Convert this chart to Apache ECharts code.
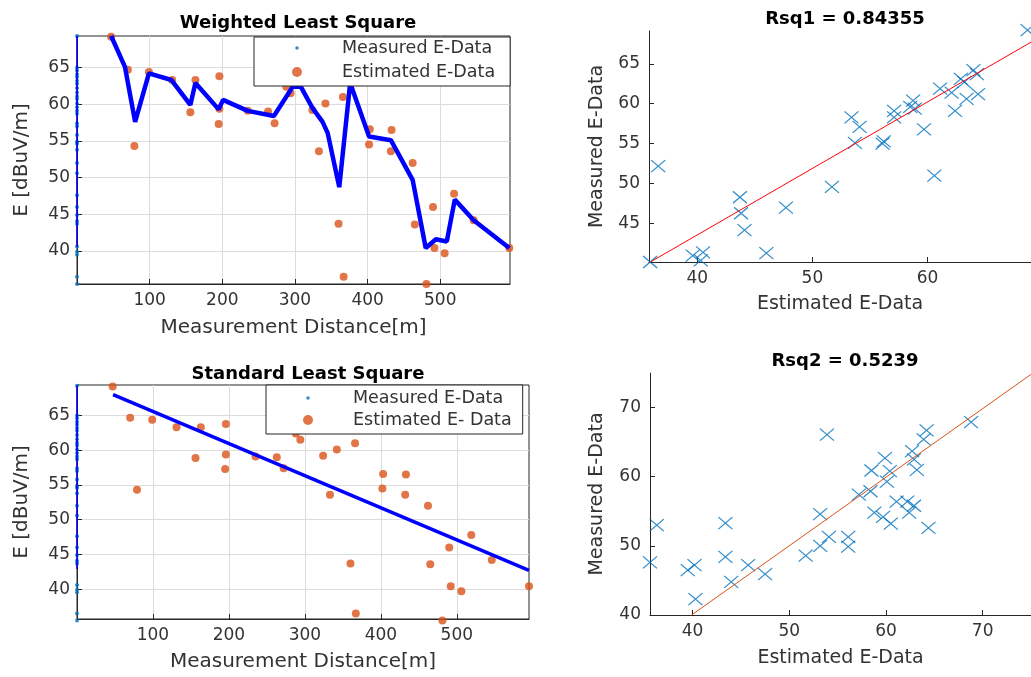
<!DOCTYPE html>
<html><head><meta charset="utf-8">
<script src="https://cdn.jsdelivr.net/npm/echarts@6/dist/echarts.min.js"></script>
<style>html,body{margin:0;padding:0;background:#fff}#c{width:1031px;height:677px}</style>
</head><body><div id="c"></div>
<script>
// ---- data ----
const distance = [47, 70, 79, 99, 131, 156, 163, 196, 196, 195, 235, 263, 272, 288, 294, 324, 342, 333, 366, 360, 367, 403, 402, 433, 432, 462, 465, 490, 481, 492, 506, 519, 546, 595];
const estimatedE = [69.2, 64.7, 54.3, 64.4, 63.3, 58.9, 63.3, 63.8, 59.4, 57.3, 59.1, 59.0, 57.4, 62.4, 61.5, 59.2, 60.1, 53.6, 61.0, 43.7, 36.5, 56.6, 54.5, 56.5, 53.6, 52.0, 43.6, 46.0, 35.5, 40.4, 39.7, 47.8, 44.2, 40.4];
const measuredDistance = 0;
const measuredE = [69.3, 65.0, 64.6, 64.1, 63.7, 63.2, 62.8, 62.2, 61.6, 61.1, 60.7, 60.1, 59.6, 59.1, 58.7, 57.4, 57.0, 55.8, 54.9, 54.6, 53.8, 52.0, 50.6, 47.6, 46.0, 44.9, 44.1, 43.7, 40.6, 39.9, 39.5, 36.5, 35.5];
const measuredSpanTop = [69.3, 40.6];
const measuredSpanBottom = [69.3, 42.9];
const weightedDist = [47, 66, 80, 99, 130, 156, 163, 195, 201, 235, 271, 297, 308, 324, 338, 345, 361, 376, 402, 432, 462, 480, 494, 509, 520, 546, 595];
const weightedE = [69.3, 65.1, 57.6, 64.2, 63.3, 59.9, 62.9, 59.3, 60.6, 59.1, 58.4, 62.4, 62.4, 59.5, 57.6, 56.1, 48.7, 62.9, 55.6, 55.1, 49.7, 40.4, 41.6, 41.3, 47.0, 44.2, 40.4];
const standardDist = [47.5, 595];
const standardE = [68.0, 42.7];
const rsq1Est = [35.9, 36.6, 39.6, 40.5, 40.3, 43.7, 43.8, 44.1, 46.0, 47.7, 51.7, 53.4, 54.1, 53.7, 56.2, 56.1, 57.1, 57.1, 58.75, 58.5, 58.9, 59.7, 60.6, 61.1, 62.1, 62.4, 62.9, 63.2, 63.4, 64.0, 64.3, 64.4, 68.7];
const rsq1Meas = [40.2, 52.2, 41.0, 41.4, 40.4, 48.3, 46.3, 44.2, 41.3, 47.0, 49.6, 58.3, 57.1, 55.1, 55.3, 55.0, 59.1, 58.3, 60.4, 59.6, 59.4, 56.8, 51.0, 61.9, 61.4, 59.1, 63.1, 62.7, 60.6, 64.2, 63.7, 61.2, 69.2];
const fit1X = [35.8, 69.0];
const fit1Y = [40.1, 67.7];
const rsq2Est = [35.6, 36.3, 39.5, 40.2, 40.3, 43.4, 43.4, 44.0, 45.75, 47.5, 51.7, 53.2, 53.2, 53.9, 54.1, 56.1, 56.1, 58.5, 59.9, 60.4, 60.1, 57.2, 58.4, 58.8, 59.7, 60.5, 61.1, 62.2, 62.9, 62.4, 62.7, 62.9, 63.2, 64.2, 63.9, 64.4, 68.8];
const rsq2Meas = [47.6, 53.0, 46.5, 47.2, 42.3, 53.3, 48.4, 44.8, 47.2, 45.9, 48.6, 50.0, 54.6, 66.1, 51.3, 51.3, 49.9, 60.9, 62.7, 60.8, 59.3, 57.4, 57.9, 54.8, 54.2, 53.2, 56.4, 56.4, 55.8, 54.8, 63.7, 62.5, 61.0, 66.7, 65.4, 52.6, 67.9];
const fit2X = [39.9, 75.0];
const fit2Y = [40.0, 74.8];
const distTicks = [100, 200, 300, 400, 500];
const eTicks = [40, 45, 50, 55, 60, 65];
const rsq1XTicks = [40, 50, 60];
const rsq1YTicks = [45, 50, 55, 60, 65];
const rsq2Ticks = [40, 50, 60, 70];
const titles = ['Weighted Least Square', 'Rsq1 = 0.84355', 'Standard Least Square', 'Rsq2 = 0.5239'];

// ---- chart ----
const FONT = 'DejaVu Sans';
const AX = '#262626';
const BLUE = '#0072BD', ORANGE = '#D95319';
const xy = (xs, ys) => xs.map((x, i) => [x, ys[i]]);
const cross = 'path://M0,0L10,10M10,0L0,10';
// small dot inside an invisible 10x10 box (legend icon for the small measured marker)
const smallDot = 'path://M0,0L0.01,0L0,0.01ZM10,10L9.99,10L10,9.99ZM5,3.2A1.8,1.8,0,1,1,5,6.8A1.8,1.8,0,1,1,5,3.2Z';

function axis(o) {
  return {
    type: 'value', gridIndex: o.g, min: o.min, max: o.max,
    name: o.name, nameLocation: 'middle', nameGap: o.gap,
    nameTextStyle: {fontFamily: FONT, fontSize: o.nameSize || 20, color: '#333'},
    axisLine: {show: true, onZero: false, lineStyle: {color: AX, width: 1}},
    axisTick: {show: true, inside: true, length: 5, customValues: o.ticks, lineStyle: {color: AX}},
    axisLabel: {customValues: o.ticks, color: '#333', fontFamily: FONT, fontSize: 17, margin: o.margin || 8},
    splitLine: {show: !!o.grid, lineStyle: {color: '#dcdcdc', width: 1}}
  };
}

const legendCommon = {
  orient: 'vertical', backgroundColor: '#fff', borderColor: AX, borderWidth: 1, borderRadius: 0,
  itemWidth: 10, itemHeight: 10, icon: 'circle',
  textStyle: {fontFamily: FONT, fontSize: 17.5, color: '#333', lineHeight: 20, padding: [0, 0, 0, 35]},
  selectedMode: false
};

const option = {
  animation: false,
  backgroundColor: '#fff',
  title: [
    {text: titles[0], left: 293, top: 9, textAlign: 'center'},
    {text: titles[1], left: 840, top: 5, textAlign: 'center'},
    {text: titles[2], left: 303, top: 360, textAlign: 'center'},
    {text: titles[3], left: 840, top: 347, textAlign: 'center'}
  ].map(t => Object.assign(t, {textStyle: {fontFamily: FONT, fontSize: 18, fontWeight: 'bold', color: '#000'}})),
  legend: [
    Object.assign({}, legendCommon, {left: 254, top: 37, padding: [1, 15, 4, 38], itemGap: 4,
      data: [{name: 'Measured E-Data', icon: smallDot}, {name: 'Estimated E-Data'}]}),
    Object.assign({}, legendCommon, {left: 266, top: 385, padding: [3, 11, 4, 37], itemGap: 2,
      data: [{name: 'Measured E-Data ', icon: smallDot}, {name: 'Estimated E- Data'}]})
  ],
  grid: [
    {left: 77, top: 36, width: 433, height: 248, show: true, borderColor: AX, borderWidth: 1},
    {left: 649, top: 31, width: 382, height: 231},
    {left: 77, top: 385, width: 452, height: 234, show: true, borderColor: AX, borderWidth: 1},
    {left: 650, top: 373, width: 381, height: 242}
  ],
  xAxis: [
    axis({g: 0, min: 0, max: 596, ticks: distTicks, grid: true, name: 'Measurement Distance[m]', gap: 34}),
    axis({g: 1, min: 35.8, max: 69, ticks: rsq1XTicks, name: 'Estimated E-Data', gap: 33, nameSize: 19}),
    axis({g: 2, min: 0, max: 595, ticks: distTicks, grid: true, name: 'Measurement Distance[m]', gap: 33}),
    axis({g: 3, min: 35.6, max: 75, ticks: rsq2Ticks, name: 'Estimated E-Data', gap: 34, nameSize: 19})
  ],
  yAxis: [
    axis({g: 0, min: 35.5, max: 69.3, ticks: eTicks, grid: true, name: 'E [dBuV/m]', gap: 45, margin: 7}),
    axis({g: 1, min: 40.2, max: 69.1, ticks: rsq1YTicks, name: 'Measured E-Data', gap: 42, nameSize: 19, margin: 9}),
    axis({g: 2, min: 35.7, max: 69.4, ticks: eTicks, grid: true, name: 'E [dBuV/m]', gap: 45, margin: 7}),
    axis({g: 3, min: 40, max: 75, ticks: rsq2Ticks, name: 'Measured E-Data', gap: 43, nameSize: 19, margin: 9})
  ],
  series: [
    // top-left
    {type: 'line', xAxisIndex: 0, yAxisIndex: 0, data: measuredSpanTop.map(v => [measuredDistance, v]), symbol: 'none', lineStyle: {color: '#0000FF', width: 1.5}, silent: true},
    {name: 'Measured E-Data', type: 'scatter', xAxisIndex: 0, yAxisIndex: 0, data: measuredE.map(v => [measuredDistance, v]), symbolSize: 4, itemStyle: {color: BLUE}, clip: false},
    {name: 'Estimated E-Data', type: 'scatter', xAxisIndex: 0, yAxisIndex: 0, data: xy(distance, estimatedE), symbolSize: 8, itemStyle: {color: ORANGE}, clip: false},
    {type: 'line', xAxisIndex: 0, yAxisIndex: 0, data: xy(weightedDist, weightedE), symbol: 'none', lineStyle: {color: '#0000FF', width: 4.5}, z: 3},
    // top-right
    {type: 'scatter', xAxisIndex: 1, yAxisIndex: 1, data: xy(rsq1Est, rsq1Meas), symbol: cross, symbolSize: [14, 12], itemStyle: {color: 'rgba(0,0,0,0)', borderColor: BLUE, borderWidth: 1.2}, clip: false},
    {type: 'line', xAxisIndex: 1, yAxisIndex: 1, data: xy(fit1X, fit1Y), symbol: 'none', lineStyle: {color: '#FF0000', width: 1}},
    // bottom-left
    {type: 'line', xAxisIndex: 2, yAxisIndex: 2, data: measuredSpanBottom.map(v => [measuredDistance, v]), symbol: 'none', lineStyle: {color: '#0000FF', width: 1.5}, silent: true},
    {name: 'Measured E-Data ', type: 'scatter', xAxisIndex: 2, yAxisIndex: 2, data: measuredE.map(v => [measuredDistance, v]), symbolSize: 4, itemStyle: {color: BLUE}, clip: false},
    {name: 'Estimated E- Data', type: 'scatter', xAxisIndex: 2, yAxisIndex: 2, data: xy(distance, estimatedE), symbolSize: 8, itemStyle: {color: ORANGE}, clip: false},
    {type: 'line', xAxisIndex: 2, yAxisIndex: 2, data: xy(standardDist, standardE), symbol: 'none', lineStyle: {color: '#0000FF', width: 3.5}, z: 3},
    // bottom-right
    {type: 'scatter', xAxisIndex: 3, yAxisIndex: 3, data: xy(rsq2Est, rsq2Meas), symbol: cross, symbolSize: [14, 12], itemStyle: {color: 'rgba(0,0,0,0)', borderColor: BLUE, borderWidth: 1.2}, clip: false},
    {type: 'line', xAxisIndex: 3, yAxisIndex: 3, data: xy(fit2X, fit2Y), symbol: 'none', lineStyle: {color: ORANGE, width: 1}}
  ]
};
const chart = echarts.init(document.getElementById('c'));
chart.setOption(option);
</script>
</body></html>
